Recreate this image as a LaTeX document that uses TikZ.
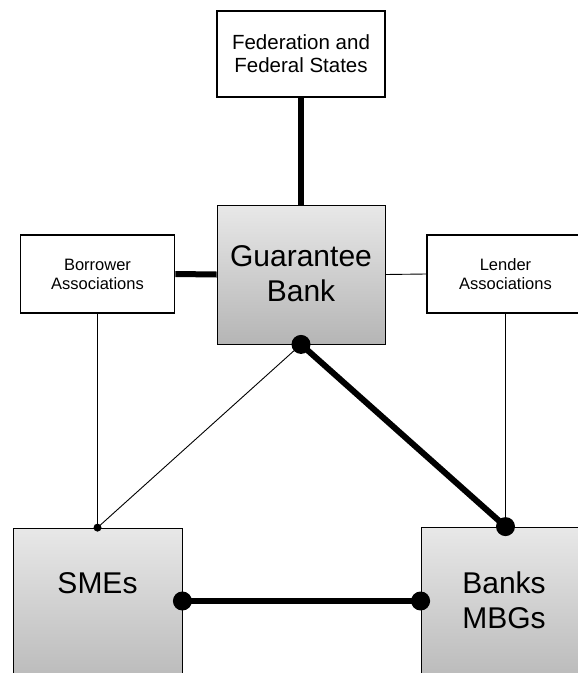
\documentclass[tikz,border=0pt]{standalone}
\usepackage{fontspec}
\setmainfont{Liberation Sans}
\usepackage{tikz}
\usetikzlibrary{positioning,calc}

\tikzset{
  whitebox/.style={draw, line width=1.9pt, fill=white, align=center, inner sep=0pt},
  graybox/.style={draw, line width=0.8pt, top color=gray!18, bottom color=gray!58, align=center, inner sep=0pt},
  bigtxt/.style={align=center, font=\fontsize{30}{35}\selectfont},
  heavy/.style={line width=6pt},
  light/.style={line width=0.9pt}
}

\begin{document}
\begin{tikzpicture}[x=1pt, y=-1pt]
    \clip (0,0) rectangle (578,673);

    % boxes
    \node[whitebox, minimum width=168pt, minimum height=86pt, font=\fontsize{20.5}{23}\selectfont] (fed) at (301,54) {Federation and\\Federal States};
    \node[graybox, minimum width=168pt, minimum height=139pt] (gb) at (301,274.5) {};
    \node[bigtxt] (gbtxt) at (301,274) {Guarantee\\Bank};
    \node[whitebox, minimum width=154pt, minimum height=78pt, font=\fontsize{16.5}{19}\selectfont] (bor) at (97.5,274) {Borrower\\Associations};
    \node[whitebox, minimum width=157pt, minimum height=78pt, font=\fontsize{16.5}{19}\selectfont] (len) at (505.5,274) {Lender\\Associations};
    \node[graybox, minimum width=169pt, minimum height=170pt] (sme) at (97.5,613) {};
    \node[bigtxt] (smetxt) at (97.5,583) {SMEs};
    \node[graybox, minimum width=169pt, minimum height=170pt] (bnk) at (505.5,612) {};
    \node[bigtxt] (bnktxt) at (504,600) {Banks\\MBGs};

    % ports on the lower boxes
    \coordinate (smeport) at (sme.east |- 0,601);
    \coordinate (bnkport) at (bnk.west |- 0,601);

    % connectors
    \draw[heavy] (fed.south) -- (gb.north);
    \draw[heavy] (bor.east) -- (gb.west);
    \draw[light] (gb.east) -- (len.west);
    \draw[light] (bor.south) -- (sme.north);
    \draw[light] (len.south) -- (bnk.north);
    \draw[light] (gb.south) -- (sme.north);
    \draw[heavy] (gb.south) -- (bnk.north);
    \draw[heavy] (smeport) -- (bnkport);

    % dots
    \fill (gb.south) circle (9.5);
    \fill (bnk.north) circle (9.5);
    \fill (smeport) circle (9.5);
    \fill (bnkport) circle (9.5);
    \fill (sme.north) circle (4);
\end{tikzpicture}
\end{document}
